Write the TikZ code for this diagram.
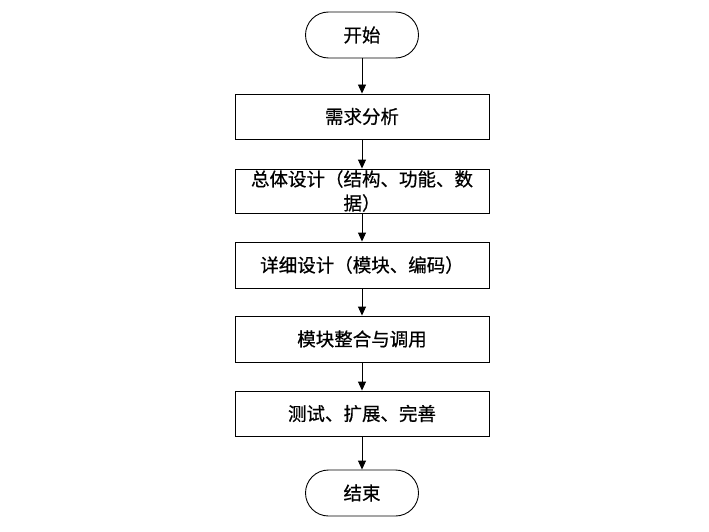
\documentclass[tikz,border=0pt]{standalone}
\usepackage{fontspec}
\setmainfont{Noto Sans CJK SC}[FakeBold=0.6]
\usetikzlibrary{arrows.meta}
\begin{document}
\begin{tikzpicture}[x=1pt,y=-1pt,
  every node/.style={font=\fontsize{18.5}{24}\selectfont},
  procbox/.style={draw,line width=0.9pt,minimum width=254pt,minimum height=45pt,inner sep=0pt,align=center},
  termbox/.style={draw,line width=0.9pt,rounded corners=23pt,minimum width=113pt,minimum height=46pt,inner sep=0pt},
  flow/.style={line width=0.9pt,-{Triangle[length=9pt,width=8pt]}}]
\useasboundingbox (0,0) rectangle (709,532);
\node[termbox] (s) at (362,35) {开始};
\node[procbox] (b1) at (362,116.5) {需求分析};
\node[procbox,minimum height=44pt] (b2) at (362,191) {总体设计（结构、功能、数\\据）};
\node[procbox,minimum height=46pt] (b3) at (362,265) {详细设计（模块、编码）};
\node[procbox,minimum height=46pt] (b4) at (362,339) {模块整合与调用};
\node[procbox] (b5) at (362,413.5) {测试、扩展、完善};
\node[termbox] (e) at (362,493) {结束};
\draw[flow] (s) -- (b1);
\draw[flow] (b1) -- (b2);
\draw[flow] (b2) -- (b3);
\draw[flow] (b3) -- (b4);
\draw[flow] (b4) -- (b5);
\draw[flow] (b5) -- (e);
\end{tikzpicture}
\end{document}
